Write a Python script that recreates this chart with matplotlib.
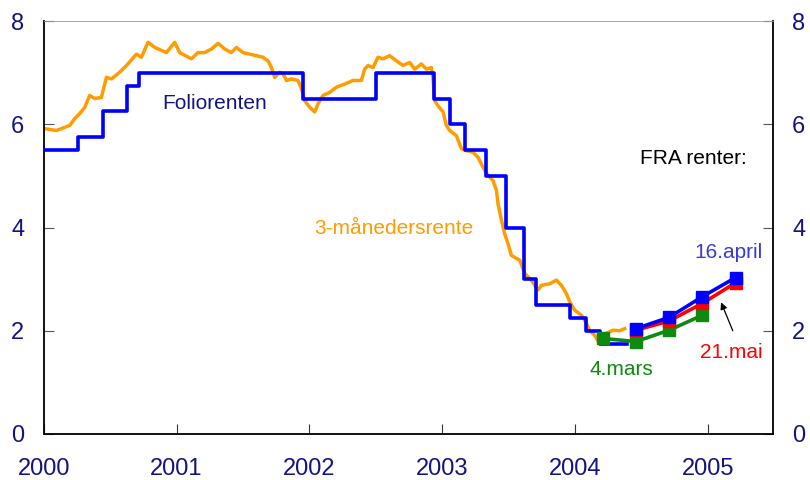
import matplotlib
matplotlib.use("Agg")
import matplotlib.pyplot as plt

plt.rcParams["font.family"] = ["Liberation Sans", "DejaVu Sans"]

# Foliorenten (step series): change dates as decimal years and new level
folio_t = [2000.0, 2000.26, 2000.45, 2000.63, 2000.72, 2001.95, 2002.50,
           2002.94, 2003.06, 2003.17, 2003.33, 2003.48, 2003.62, 2003.71,
           2003.96, 2004.08, 2004.19, 2004.39]
folio_v = [5.5, 5.75, 6.25, 6.75, 7.0, 6.5, 7.0,
           6.5, 6.0, 5.5, 5.0, 4.0, 3.0, 2.5,
           2.25, 2.0, 1.75, 1.75]

# 3-month rate
nibor_t = [2000.000, 2000.096, 2000.196, 2000.233, 2000.271, 2000.309, 2000.346,
           2000.384, 2000.434, 2000.472, 2000.510, 2000.572, 2000.623, 2000.698,
           2000.736, 2000.785, 2000.836, 2000.924, 2000.986, 2001.024, 2001.112,
           2001.162, 2001.212, 2001.263, 2001.313, 2001.363, 2001.413, 2001.451,
           2001.501, 2001.551, 2001.602, 2001.651, 2001.689, 2001.715, 2001.739,
           2001.777, 2001.802, 2001.828, 2001.865, 2001.915, 2001.941, 2001.965,
           2002.003, 2002.041, 2002.066, 2002.103, 2002.154, 2002.204, 2002.267,
           2002.329, 2002.355, 2002.392, 2002.417, 2002.442, 2002.480, 2002.517,
           2002.555, 2002.605, 2002.656, 2002.706, 2002.756, 2002.794, 2002.844,
           2002.882, 2002.919, 2002.931, 2002.944, 2002.969, 2003.007, 2003.032,
           2003.057, 2003.108, 2003.145, 2003.183, 2003.233, 2003.270, 2003.308,
           2003.346, 2003.383, 2003.409, 2003.421, 2003.447, 2003.471, 2003.496,
           2003.522, 2003.560, 2003.584, 2003.622, 2003.672, 2003.722, 2003.748,
           2003.810, 2003.861, 2003.898, 2003.936, 2003.961, 2003.998, 2004.049,
           2004.087, 2004.111, 2004.149, 2004.187, 2004.212, 2004.237, 2004.287,
           2004.337, 2004.375]
nibor_v = [5.92, 5.88, 5.98, 6.11, 6.21, 6.33, 6.56,
           6.50, 6.52, 6.91, 6.88, 7.01, 7.14, 7.36,
           7.30, 7.59, 7.49, 7.39, 7.59, 7.39, 7.27,
           7.39, 7.39, 7.46, 7.57, 7.46, 7.39, 7.49,
           7.39, 7.36, 7.33, 7.30, 7.23, 7.10, 6.91,
           7.01, 6.98, 6.85, 6.88, 6.85, 6.69, 6.46,
           6.33, 6.24, 6.40, 6.56, 6.62, 6.72, 6.78,
           6.85, 6.85, 6.85, 7.07, 7.14, 7.10, 7.30,
           7.27, 7.33, 7.23, 7.14, 7.20, 7.07, 7.17,
           7.07, 7.10, 6.91, 6.46, 6.36, 6.24, 5.98,
           5.88, 5.78, 5.53, 5.49, 5.46, 5.36, 5.17,
           5.01, 4.91, 4.72, 4.46, 4.14, 3.88, 3.69,
           3.46, 3.40, 3.37, 3.11, 2.98, 2.79, 2.88,
           2.91, 2.98, 2.88, 2.72, 2.56, 2.40, 2.30,
           2.14, 2.01, 1.91, 1.75, 1.88, 1.95, 2.01,
           2.00, 2.04]

# FRA rates at IMM dates
fra_t = [2004.21, 2004.46, 2004.71, 2004.96, 2005.21]
fra_apr16 = [None, 2.04, 2.26, 2.66, 3.03]
fra_may21 = [None, 2.01, 2.19, 2.53, 2.93]
fra_mar4 = [1.85, 1.79, 2.01, 2.30, None]


def pairs(t, v):
    pts = [(a, b) for a, b in zip(t, v) if b is not None]
    return [p[0] for p in pts], [p[1] for p in pts]


fig = plt.figure(figsize=(8.1, 4.8), dpi=100)
ax = fig.add_axes([0.054, 0.096, 0.900, 0.860])

navy = "#141480"
orange = "#FF9C00"

ax.plot(nibor_t, nibor_v, color=orange, lw=2.5, zorder=2)
ax.step(folio_t, folio_v, where="post", color="#0000FF", lw=2.6, zorder=3)

for vals, col in [(fra_mar4, "#0E8A0E"), (fra_may21, "#FF0000"), (fra_apr16, "#0000FF")]:
    x, y = pairs(fra_t, vals)
    ax.plot(x, y, color=col, lw=2.6, marker="s", ms=8, zorder=4)

ax.text(2001.29, 6.40, "Foliorenten", color=navy, fontsize=15, ha="center", va="center")
ax.text(2002.64, 3.98, "3-månedersrente", color=orange, fontsize=15, ha="center", va="center")
ax.text(2004.89, 5.34, "FRA renter:", color="black", fontsize=15, ha="center", va="center")
ax.text(2005.16, 3.52, "16.april", color="#3A3AD8", fontsize=15, ha="center", va="center")
ax.text(2005.18, 1.57, "21.mai", color="#FF0000", fontsize=15, ha="center", va="center")
ax.text(2004.35, 1.24, "4.mars", color="#0E8A0E", fontsize=15, ha="center", va="center")
ax.annotate("", xy=(2005.093, 2.60), xytext=(2005.197, 1.95),
            arrowprops=dict(arrowstyle="-|>", color="black", lw=0.9, mutation_scale=10))

ax.set_xlim(2000, 2005.49)
ax.set_ylim(0, 8)
ax.set_xticks([2000, 2001, 2002, 2003, 2004, 2005])
ax.set_xticklabels(["2000", "2001", "2002", "2003", "2004", "2005"])
ax.set_yticks([0, 2, 4, 6, 8])

ax.tick_params(axis="x", direction="in", length=7, color="#333333", labelsize=17,
               labelcolor=navy, pad=17)
ax.tick_params(axis="y", direction="in", length=7, color="#555555", labelsize=17,
               labelcolor=navy, left=True, right=True, labelleft=True, labelright=True, pad=14)

for side in ["left", "right", "bottom"]:
    ax.spines[side].set_linewidth(1.3)
    ax.spines[side].set_color("black")
ax.spines["top"].set_color("#999999")
ax.spines["top"].set_linewidth(0.6)

fig.savefig("out.png", dpi=100)
